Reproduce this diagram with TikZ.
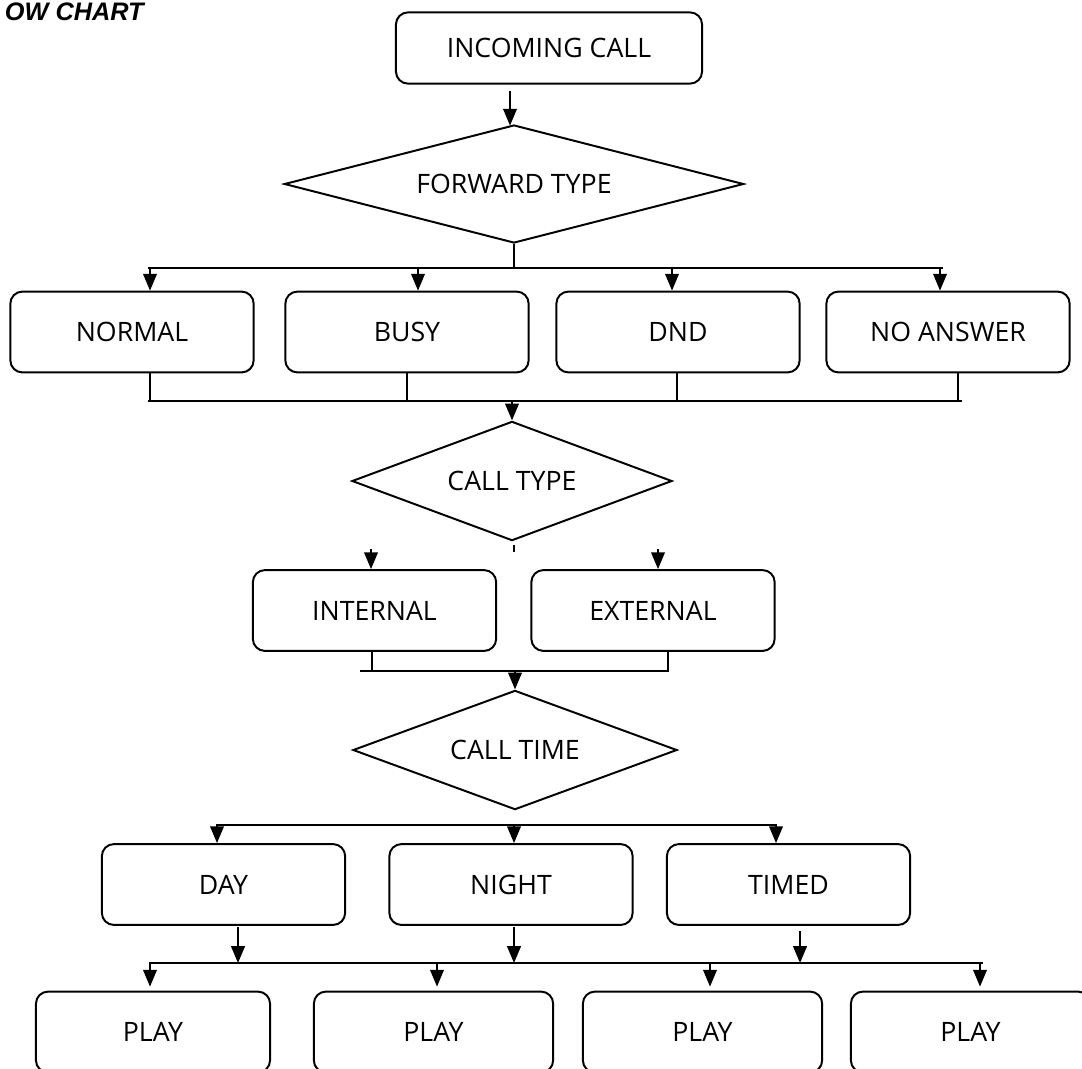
\documentclass[tikz,border=0pt]{standalone}
\usepackage{fontspec}
\setmainfont{Open Sans}
\newfontfamily\titlefont{Liberation Sans}
\usetikzlibrary{shapes.geometric,arrows.meta}

\begin{document}
\begin{tikzpicture}[x=0.025cm,y=-0.025cm,
        every node/.style={font=\fontsize{19}{22}\selectfont},
        stepbox/.style={draw,rounded corners=0.3cm,line width=1.4pt,inner sep=0pt,minimum width=6.08cm,minimum height=2.02cm},
        choice/.style={draw,diamond,line width=1.4pt,inner sep=0pt,shape aspect=3,minimum width=8.05cm,minimum height=2.98cm},
        arr/.style={line width=1.4pt,-{Triangle[length=4.2mm,width=3.4mm]}},
        bus/.style={line width=1.4pt}]

        \useasboundingbox (0,0) rectangle (1082,1068);

        % title
            \node[anchor=base west,font=\titlefont\bfseries\itshape\fontsize{18}{20}\selectfont] (title) at (0,20) {OW CHART};

        % start and forward type
            \node[stepbox,minimum width=7.65cm,minimum height=1.78cm] (call) at (549,48) {INCOMING CALL};
            \node[choice,minimum width=11.48cm,minimum height=2.95cm] (fwd) at (514,184) {FORWARD TYPE};
            \draw[arr] ([shift={(-39,6)}]call.south) -- ++(0,35);

            \node[stepbox] (normal) at (132,332) {NORMAL};
            \node[stepbox] (busy) at (407,332) {BUSY};
            \node[stepbox] (dnd) at (678,332) {DND};
            \node[stepbox] (noans) at (948,332) {NO ANSWER};

            \coordinate (busAl) at (148,268);
            \coordinate (busAr) at (943,268);
            \draw[bus] (fwd.south) -- (fwd.south |- busAl);
            \draw[bus] (busAl) -- (busAr);
            \foreach \n/\dx in {normal/18,busy/11,dnd/-6,noans/-8}
                \draw[arr] ([shift={(\dx,-24)}]\n.north) -- ([shift={(\dx,0)}]\n.north);

        % call type
            \coordinate (busBl) at (148,401);
            \coordinate (busBr) at (962,401);
            \foreach \n/\dx in {normal/18,busy/0,dnd/-1,noans/10}
                \draw[bus] ([shift={(\dx,0)}]\n.south) -- ++(0,29);
            \draw[bus] (busBl) -- (busBr);

            \node[choice,minimum width=8cm] (ctype) at (512,481) {CALL TYPE};
            \draw[arr] (ctype.north |- busBl) -- (ctype.north);
            \draw[bus] ([shift={(2,3)}]ctype.south) -- ++(0,7);

            \node[stepbox] (internal) at (374.5,610.5) {INTERNAL};
            \node[stepbox] (external) at (653,610.5) {EXTERNAL};
            \foreach \n/\dx in {internal/-3.5,external/5}
                \draw[arr] ([shift={(\dx,-20)}]\n.north) -- ([shift={(\dx,0)}]\n.north);

        % call time
            \coordinate (busCl) at (360,671);
            \coordinate (busCr) at (668,671);
            \foreach \n/\dx in {internal/-2.5,external/15}
                \draw[bus] ([shift={(\dx,0)}]\n.south) -- ++(0,20);
            \draw[bus] (busCl) -- (busCr);

            \node[choice,minimum width=8.1cm] (ctime) at (515,750) {CALL TIME};
            \draw[arr] (ctime.north |- busCl) -- (ctime.north);

            \node[stepbox] (day) at (223.5,884.5) {DAY};
            \node[stepbox] (night) at (511,884.5) {NIGHT};
            \node[stepbox] (timed) at (788.5,884.5) {TIMED};

            \coordinate (busDl) at (217,825);
            \coordinate (busDr) at (776,825);
            \draw[bus] (busDl) -- (busDr);
            \foreach \n/\dx in {day/-6.5,night/3,timed/-12.5}
                \draw[arr] ([shift={(\dx,-19)}]\n.north) -- ([shift={(\dx,0)}]\n.north);

        % play
            \node[stepbox,minimum width=5.85cm] (playA) at (153,1032) {PLAY};
            \node[stepbox,minimum width=5.98cm] (playB) at (433.5,1032) {PLAY};
            \node[stepbox,minimum width=5.98cm] (playC) at (702.5,1032) {PLAY};
            \node[stepbox,minimum width=5.98cm] (playD) at (970.5,1032) {PLAY};

            \coordinate (busEl) at (150,963);
            \coordinate (busEr) at (983,963);
            \draw[arr] ([shift={(14.5,1)}]day.south) -- ([shift={(14.5,0)}]day.south |- busEl);
            \draw[arr] ([shift={(3,1)}]night.south) -- ([shift={(3,0)}]night.south |- busEl);
            \draw[arr] ([shift={(11.5,5)}]timed.south) -- ([shift={(11.5,0)}]timed.south |- busEl);
            \draw[bus] (busEl) -- (busEr);
            \foreach \n/\dx in {playA/-3,playB/3.5,playC/7.5,playD/9.5}
                \draw[arr] ([shift={(\dx,-29)}]\n.north) -- ([shift={(\dx,-4)}]\n.north);
        \end{tikzpicture}
\end{document}
